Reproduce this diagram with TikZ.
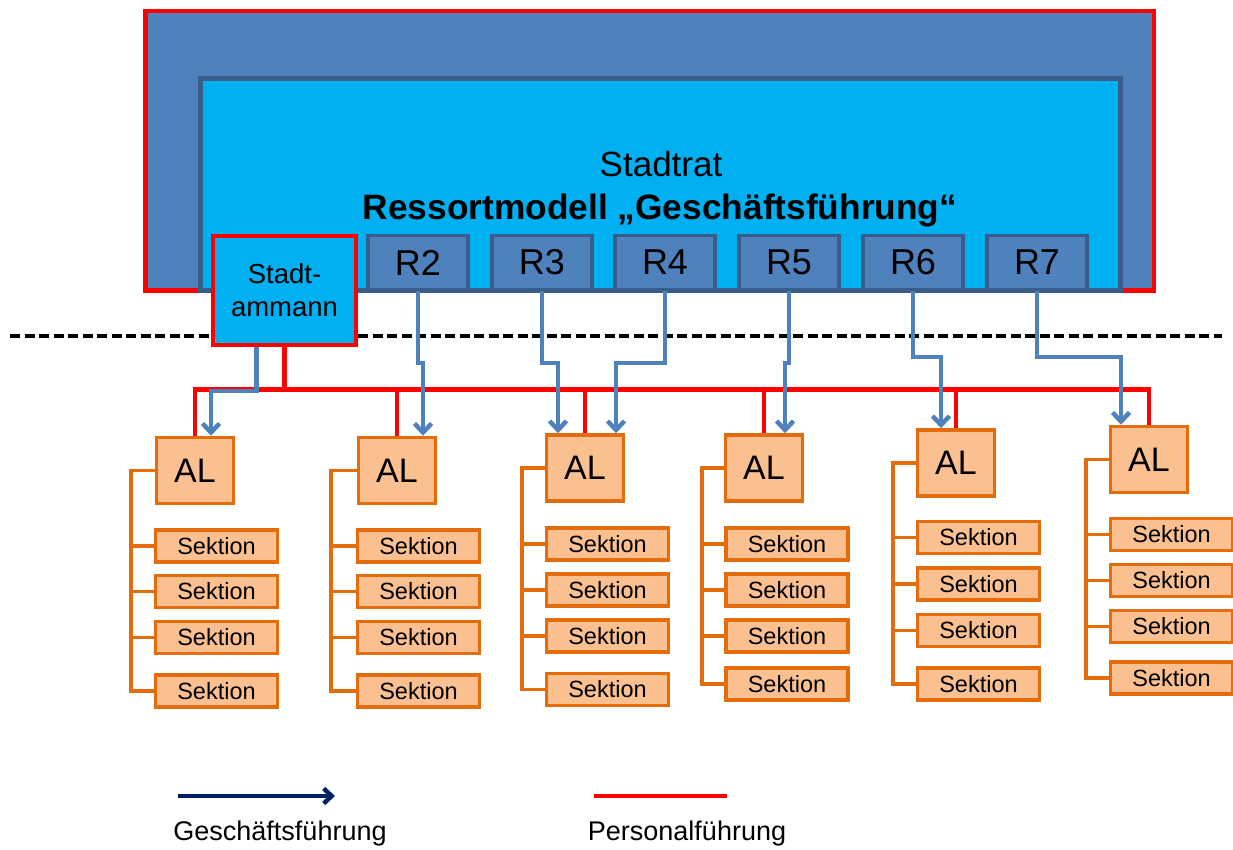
\documentclass[tikz,border=0pt]{standalone}
\usepackage{fontspec}
\setmainfont{Liberation Sans}
\usetikzlibrary{arrows.meta}
\definecolor{outerblue}{HTML}{4F81BD}
\definecolor{darkblue}{HTML}{385D8A}
\definecolor{cyanfill}{HTML}{00B0F0}
\definecolor{orangeline}{HTML}{E46C0A}
\definecolor{orangefill}{HTML}{FAC090}
\definecolor{navyblue}{HTML}{002060}
\definecolor{pred}{HTML}{FF0000}
\newcommand{\myfs}[2]{\fontsize{#1}{#2}\selectfont}
\begin{document}
\begin{tikzpicture}[x=1pt,y=-1pt,
  outerbox/.style={draw=pred, fill=outerblue, line width=4.5pt, inner sep=0pt},
  innerbox/.style={draw=darkblue, fill=cyanfill, line width=4.5pt, inner sep=0pt},
  rbox/.style={draw=darkblue, fill=outerblue, line width=3.5pt, inner sep=0pt,
    minimum width=100pt, minimum height=54pt, font=\myfs{36}{40}},
  sabox/.style={draw=pred, fill=cyanfill, line width=4pt, inner sep=0pt,
    minimum width=143pt, minimum height=109pt, align=center, font=\myfs{27.5}{33}},
  albox/.style={draw=orangeline, fill=orangefill, line width=3.5pt, inner sep=0pt,
    minimum width=77pt, minimum height=66pt, font=\myfs{34}{38}},
  secbox/.style={draw=orangeline, fill=orangefill, line width=3.5pt, inner sep=0pt,
    minimum width=122pt, minimum height=32pt, font=\myfs{23.5}{26}},
  spine/.style={draw=orangeline, line width=3.5pt},
  pline/.style={draw=pred, line width=4.5pt},
  garrow/.style={draw=outerblue, line width=4.5pt, -{Straight Barb[length=9pt,width=17pt]}},
  legarrow/.style={draw=navyblue, line width=4.5pt, -{Straight Barb[length=8pt,width=15pt]}},
  dashline/.style={draw=black, line width=4.5pt, dash pattern=on 10pt off 4.5pt},
  legtext/.style={font=\myfs{27}{30}, anchor=base}
]
\useasboundingbox (0,0) rectangle (1233,850);

% upper frames
\node[outerbox, minimum width=1008.5pt, minimum height=279.5pt] (outer) at (649.75,150.75) {};
\node[innerbox, minimum width=920pt, minimum height=212pt] (inner) at (660.5,184.5) {};
\node[font=\myfs{35}{40}, anchor=base] (stadtrat) at (661,177) {Stadtrat};
\node[font=\bfseries\myfs{35.3}{40}, anchor=base] (title) at (660,220) {Ressortmodell „Geschäftsführung“};

% R boxes
\node[rbox] (R2) at (418,262.5) {R2};
\node[rbox] (R3) at (542,262.5) {R3};
\node[rbox] (R4) at (665,262.5) {R4};
\node[rbox] (R5) at (789,262.5) {R5};
\node[rbox] (R6) at (913,262.5) {R6};
\node[rbox] (R7) at (1037,262.5) {R7};

% dashed separator
\coordinate (dl) at (10,336);
\coordinate (dr) at (1222,336);
\draw[dashline] (dl) -- (dr);

% Stadtammann
\node[sabox] (SA) at (284.5,290.5) {Stadt-\\ammann};

% AL columns with Sektionen
\foreach \i/\alx/\aly/\sx/\sp/\ya/\yb/\yc/\yd in {
  1/195/470.5/216.5/131/546/591.5/637.5/691,
  2/397/470.5/418.5/331/546/591.5/637.5/691,
  3/585/468/607.5/522/544/590/636/689.5,
  4/764/468/787/702/544/590/636/684,
  5/956/463/978.5/893/537.5/584/630.5/684,
  6/1149/459.5/1171.5/1086/534.5/580.5/626.5/678}{
  \node[albox] (AL\i) at (\alx,\aly) {AL};
  \node[secbox] (S\i a) at (\sx,\ya) {Sektion};
  \node[secbox] (S\i b) at (\sx,\yb) {Sektion};
  \node[secbox] (S\i c) at (\sx,\yc) {Sektion};
  \node[secbox] (S\i d) at (\sx,\yd) {Sektion};
  \coordinate (sp\i) at (\sp,0);
  \draw[spine] (AL\i.west) -- (AL\i.west -| sp\i) |- (S\i d.west);
  \foreach \s in {a,b,c}{
    \draw[spine] (S\i\s.west) -- (S\i\s.west -| sp\i);
  }
}

% Personalfuehrung (red)
\coordinate (bus) at (0,389.5);
\draw[pline] (AL1.north) -- (AL1.north |- bus) -- (AL6.north |- bus) -- (AL6.north);
\foreach \i in {2,3,4,5}{
  \draw[pline] (AL\i.north) -- (AL\i.north |- bus);
}
\draw[pline] (SA.south) -- (SA.south |- bus);

% Geschaeftsfuehrung (blue)
\coordinate (busb) at (0,391);
\coordinate (ja) at (0,363);
\coordinate (jb) at (0,357);
\coordinate (sa0) at ([xshift=-28pt]SA.south);
\coordinate (t1) at ([xshift=16pt]AL1.north);
\coordinate (t2) at ([xshift=26pt]AL2.north);
\coordinate (t3a) at ([xshift=-27pt]AL3.north);
\coordinate (t3b) at ([xshift=31pt]AL3.north);
\coordinate (t4) at ([xshift=21pt]AL4.north);
\coordinate (t5) at ([xshift=-15pt]AL5.north);
\coordinate (t6) at ([xshift=-28pt]AL6.north);
\draw[garrow] (sa0) -- (sa0 |- busb) -- (t1 |- busb) -- (t1);
\draw[garrow] (R2.south) -- (R2.south |- ja) -- (t2 |- ja) -- (t2);
\draw[garrow] (R3.south) -- (R3.south |- ja) -- (t3a |- ja) -- (t3a);
\draw[garrow] (R4.south) -- (R4.south |- ja) -- (t3b |- ja) -- (t3b);
\draw[garrow] (R5.south) -- (R5.south |- ja) -- (t4 |- ja) -- (t4);
\draw[garrow] (R6.south) -- (R6.south |- jb) -- (t5 |- jb) -- (t5);
\draw[garrow] (R7.south) -- (R7.south |- jb) -- (t6 |- jb) -- (t6);

% legend
\coordinate (ga) at (178,796);
\coordinate (gb) at (335,796);
\draw[legarrow] (ga) -- (gb);
\coordinate (pa) at (594,796);
\coordinate (pb) at (727,796);
\draw[pline] (pa) -- (pb);
\node[legtext] (gl) at (280,840) {Geschäftsführung};
\node[legtext] (pl) at (687,840) {Personalführung};
\end{tikzpicture}
\end{document}
